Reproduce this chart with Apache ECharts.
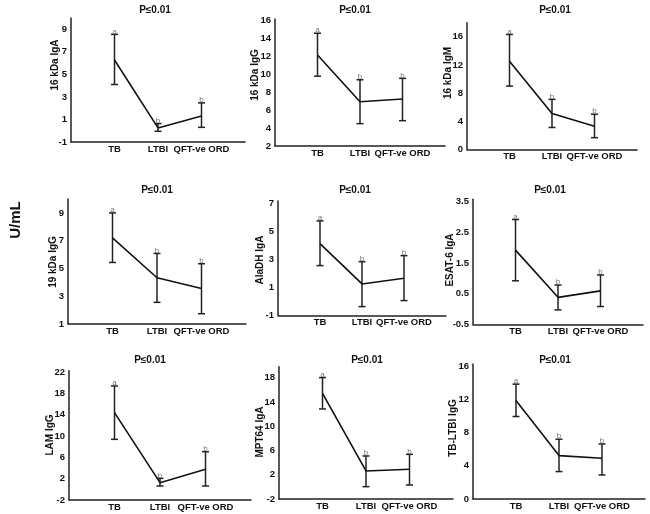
<!DOCTYPE html>
<html><head><meta charset="utf-8">
<script src="https://cdn.jsdelivr.net/npm/echarts@6/dist/echarts.min.js"></script>
<style>html,body{margin:0;padding:0;background:#fff}#c{width:650px;height:514px}</style>
</head><body><div id="c"></div>
<script>
// ---- data ----
const categories = ['TB', 'LTBI', 'QFT-ve ORD'];
const panelNames = ['16 kDa IgA', '16 kDa IgG', '16 kDa IgM', '19 kDa IgG', 'AlaDH IgA', 'ESAT-6 IgA', 'LAM IgG', 'MPT64 IgA', 'TB-LTBI IgG'];
const panelTitle = 'P≤0.01';
const meanValues = [
  [6.27, 0.25, 1.31],
  [12.16, 6.95, 7.25],
  [12.52, 5.08, 3.29],
  [7.2, 4.33, 3.56],
  [4.12, 1.24, 1.64],
  [1.92, 0.38, 0.59],
  [14.42, 1.26, 3.76],
  [15.42, 2.62, 2.89],
  [11.9, 5.24, 4.92]
];
const upperValues = [
  [8.55, 0.63, 2.47],
  [14.6, 9.4, 9.56],
  [16.33, 7.1, 4.99],
  [9.0, 6.08, 5.34],
  [5.74, 2.83, 3.26],
  [2.92, 0.78, 1.11],
  [19.43, 2.07, 7.08],
  [18.0, 5.09, 5.36],
  [13.87, 7.22, 6.65]
];
const lowerValues = [
  [4.1, -0.05, 0.3],
  [9.8, 4.5, 4.83],
  [8.99, 3.1, 1.65],
  [5.43, 2.56, 1.74],
  [2.55, -0.38, 0.05],
  [0.92, -0.03, 0.08],
  [9.4, 0.63, 0.63],
  [12.84, 0.03, 0.31],
  [9.96, 3.31, 2.9]
];
const groupLetters = ['a', 'b', 'b'];
// y tick labels: first label, step, last label
const yTickStart = [-1, 2, 0, 1, -1, -0.5, -2, -2, 0];
const yTickStep  = [2, 2, 4, 2, 2, 1, 4, 4, 4];
const yTickEnd   = [9, 16, 16, 9, 7, 3.5, 22, 18, 16];
const yAxisMax   = [10, 16.19, 18, 10, 7.16, 3.58, 22.3, 19.8, 16.3];

// ---- layout ----
const gridBoxes = [
  {left: 71, top: 18, width: 174, height: 124},
  {left: 275, top: 19, width: 170, height: 127},
  {left: 467, top: 22.7, width: 170, height: 126.6},
  {left: 68, top: 199, width: 178, height: 125},
  {left: 278, top: 201, width: 168, height: 114.3},
  {left: 473, top: 199.3, width: 170, height: 125},
  {left: 69, top: 370.7, width: 182, height: 129.3},
  {left: 279, top: 366.7, width: 174, height: 132.3},
  {left: 473, top: 364, width: 172, height: 135}
];
const titlePos = [[155, 10], [355, 10], [555, 10], [157, 190], [355, 190], [550, 190], [150, 360], [367, 360], [555, 360]];
const namePos = [[55, 65], [255, 75], [448, 73], [53, 262], [260, 260], [450, 260], [50, 435], [260, 432], [453, 428]];

const FONT = '"Liberation Sans", Arial, sans-serif';
const chart = echarts.init(document.getElementById('c'), null, {renderer: 'canvas'});

const xCats = [''].concat(categories, ['']);
const grid = [], xAxis = [], yAxis = [], series = [], graphic = [];

for (let i = 0; i < 9; i++) {
  grid.push(Object.assign({containLabel: false}, gridBoxes[i]));
  xAxis.push({
    gridIndex: i, type: 'category', data: xCats, boundaryGap: false,
    axisLine: {onZero: false, lineStyle: {color: '#222', width: 1.5}},
    axisTick: {show: false},
    axisLabel: {interval: 0, color: '#111', fontWeight: 'bold', fontSize: 9.5, fontFamily: FONT, margin: 2}
  });
  const start = yTickStart[i], step = yTickStep[i], end = yTickEnd[i];
  const interval = (Math.abs(start / step - Math.round(start / step)) < 1e-9) ? step : step / 2;
  yAxis.push({
    gridIndex: i, type: 'value', min: start, max: yAxisMax[i], interval: interval,
    axisLine: {show: true, onZero: false, lineStyle: {color: '#222', width: 1.5}},
    axisTick: {show: false},
    splitLine: {show: false},
    axisLabel: {
      color: '#111', fontWeight: 'bold', fontSize: 9.5, fontFamily: FONT, margin: 4,
      showMaxLabel: true, showMinLabel: true,
      formatter: function (v) {
        const k = (v - start) / step;
        if (Math.abs(k - Math.round(k)) < 1e-6 && v <= end + 1e-6) return String(Math.round(v * 100) / 100);
        return '';
      }
    }
  });
  series.push({
    type: 'line', xAxisIndex: i, yAxisIndex: i, symbol: 'none', silent: true,
    lineStyle: {color: '#111', width: 1.6},
    data: [null].concat(meanValues[i], [null]),
    z: 3
  });
  const ebData = categories.map((c, j) => [j + 1, lowerValues[i][j], upperValues[i][j]]);
  series.push({
    type: 'custom', xAxisIndex: i, yAxisIndex: i, silent: true, clip: false,
    data: ebData, z: 2,
    renderItem: function (params, api) {
      const x = api.value(0);
      const lo = api.coord([x, api.value(1)]);
      const hi = api.coord([x, api.value(2)]);
      const hw = 3.5;
      const st = {stroke: '#222', lineWidth: 1.5};
      return {
        type: 'group', children: [
          {type: 'line', shape: {x1: lo[0], y1: lo[1], x2: hi[0], y2: hi[1]}, style: st},
          {type: 'line', shape: {x1: lo[0] - hw, y1: lo[1], x2: lo[0] + hw, y2: lo[1]}, style: st},
          {type: 'line', shape: {x1: hi[0] - hw, y1: hi[1], x2: hi[0] + hw, y2: hi[1]}, style: st},
          {type: 'text', x: hi[0], y: hi[1] + 1, style: {
            text: groupLetters[params.dataIndex], textAlign: 'center', textVerticalAlign: 'bottom',
            fill: '#777', font: '8px ' + FONT
          }}
        ]
      };
    }
  });
  graphic.push({
    type: 'text', x: titlePos[i][0], y: titlePos[i][1], silent: true,
    style: {text: panelTitle, textAlign: 'center', textVerticalAlign: 'middle', fill: '#111', font: 'bold 10px ' + FONT}
  });
  graphic.push({
    type: 'text', x: namePos[i][0], y: namePos[i][1], rotation: Math.PI / 2, silent: true,
    style: {text: panelNames[i], textAlign: 'center', textVerticalAlign: 'middle', fill: '#111', font: 'bold 10px ' + FONT}
  });
}
graphic.push({
  type: 'text', x: 16, y: 220, rotation: Math.PI / 2, silent: true,
  style: {text: 'U/mL', textAlign: 'center', textVerticalAlign: 'middle', fill: '#111', font: 'bold 15px ' + FONT}
});

chart.setOption({
  animation: false,
  backgroundColor: '#fff',
  grid: grid, xAxis: xAxis, yAxis: yAxis, series: series, graphic: graphic
});
</script>
</body></html>
